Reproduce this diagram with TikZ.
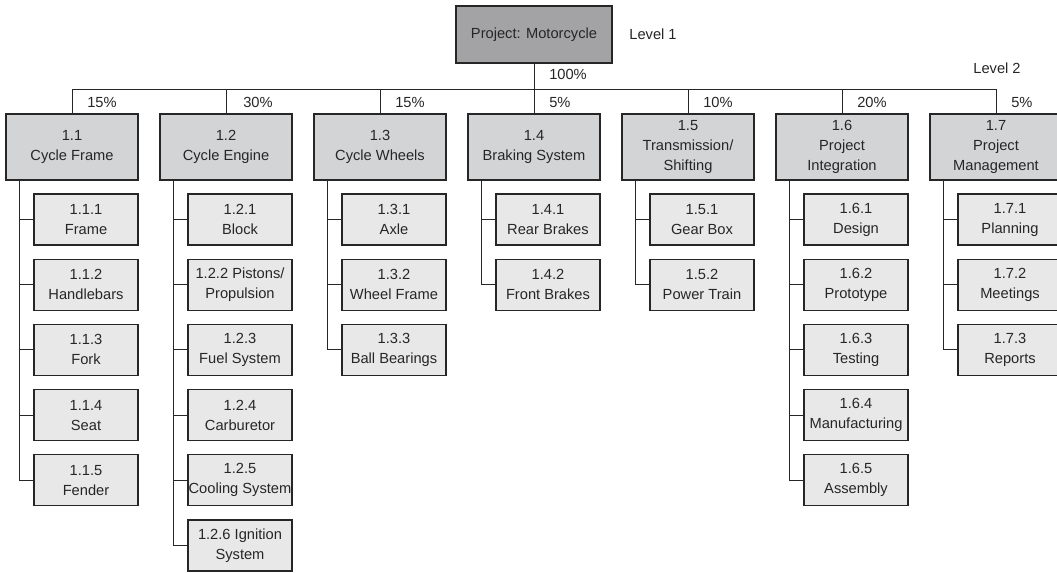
\documentclass[tikz,border=0pt]{standalone}
\usepackage{fontspec}
\setmainfont{Liberation Sans}
\usepackage{tikz}
\usetikzlibrary{positioning}
\definecolor{rootgray}{RGB}{163,163,165}
\definecolor{wpgray}{RGB}{211,212,214}
\definecolor{taskgray}{RGB}{232,232,232}
\definecolor{inkgray}{RGB}{38,38,38}

\begin{document}
\begin{tikzpicture}[
  x=0.75pt, y=-0.75pt,
  box/.style={rectangle, draw=inkgray, line width=0.8pt, inner sep=0pt, align=center,
    text=inkgray, font=\fontsize{11}{15}\selectfont},
  rootbox/.style={box, fill=rootgray, minimum width=117pt, minimum height=42.75pt},
  wpbox/.style={box, fill=wpgray, minimum width=99pt, minimum height=49.5pt},
  taskbox/.style={box, fill=taskgray, minimum width=78pt, minimum height=38.25pt},
  pct/.style={anchor=west, inner sep=0pt, text=inkgray, font=\fontsize{11}{15}\selectfont},
  link/.style={draw=inkgray, line width=0.75pt}
]
  \useasboundingbox (0,0) rectangle (1057,572);
  \clip (0,0) rectangle (1057,572);
  % ---------------- level 1 ----------------
  \node[rootbox] (root) at (534,34.5) {Project: Motorcycle};
  \node[pct, anchor=center] (lev1) at (653,34) {Level 1};
  \node[pct, anchor=center] (lev2) at (997,68) {Level 2};
  % ---------------- level 2 ----------------
  \node[wpbox] (l1) at (72,147) {1.1\\Cycle Frame};
  \node[wpbox] (l2) at (226,147) {1.2\\Cycle Engine};
  \node[wpbox] (l3) at (380,147) {1.3\\Cycle Wheels};
  \node[wpbox] (l4) at (534,147) {1.4\\Braking System};
  \node[wpbox] (l5) at (688,147) {1.5\\Transmission/\\Shifting};
  \node[wpbox] (l6) at (842,147) {1.6\\Project\\Integration};
  \node[wpbox] (l7) at (996,147) {1.7\\Project\\Management};
  % weights
  \coordinate (bar) at (534,89);
  \node[pct] (w0) at (549,74) {100\%};
  \node[pct] (w1) at (87,102) {15\%};
  \node[pct] (w2) at (243,102) {30\%};
  \node[pct] (w3) at (395,102) {15\%};
  \node[pct] (w4) at (549,102) {5\%};
  \node[pct] (w5) at (703,102) {10\%};
  \node[pct] (w6) at (857,102) {20\%};
  \node[pct] (w7) at (1011,102) {5\%};
  % ---------------- level 3 ----------------
  \node[taskbox] (s11) at (86,219.5) {1.1.1\\Frame};
  \node[taskbox] (s12) at (86,284.7) {1.1.2\\Handlebars};
  \node[taskbox] (s13) at (86,349.9) {1.1.3\\Fork};
  \node[taskbox] (s14) at (86,415.1) {1.1.4\\Seat};
  \node[taskbox] (s15) at (86,480.3) {1.1.5\\Fender};
  \node[taskbox] (s21) at (240,219.5) {1.2.1\\Block};
  \node[taskbox] (s22) at (240,284.7) {1.2.2 Pistons/\\Propulsion};
  \node[taskbox] (s23) at (240,349.9) {1.2.3\\Fuel System};
  \node[taskbox] (s24) at (240,415.1) {1.2.4\\Carburetor};
  \node[taskbox] (s25) at (240,480.3) {1.2.5\\Cooling System};
  \node[taskbox] (s26) at (240,545.5) {1.2.6 Ignition\\System};
  \node[taskbox] (s31) at (394,219.5) {1.3.1\\Axle};
  \node[taskbox] (s32) at (394,284.7) {1.3.2\\Wheel Frame};
  \node[taskbox] (s33) at (394,349.9) {1.3.3\\Ball Bearings};
  \node[taskbox] (s41) at (548,219.5) {1.4.1\\Rear Brakes};
  \node[taskbox] (s42) at (548,284.7) {1.4.2\\Front Brakes};
  \node[taskbox] (s51) at (702,219.5) {1.5.1\\Gear Box};
  \node[taskbox] (s52) at (702,284.7) {1.5.2\\Power Train};
  \node[taskbox] (s61) at (856,219.5) {1.6.1\\Design};
  \node[taskbox] (s62) at (856,284.7) {1.6.2\\Prototype};
  \node[taskbox] (s63) at (856,349.9) {1.6.3\\Testing};
  \node[taskbox] (s64) at (856,415.1) {1.6.4\\Manufacturing};
  \node[taskbox] (s65) at (856,480.3) {1.6.5\\Assembly};
  \node[taskbox] (s71) at (1010,219.5) {1.7.1\\Planning};
  \node[taskbox] (s72) at (1010,284.7) {1.7.2\\Meetings};
  \node[taskbox] (s73) at (1010,349.9) {1.7.3\\Reports};
  % ---------------- connectors: level 1 to level 2 ----------------
  \draw[link] (root.south) -- (l4.north);
  \draw[link] (l1.north) -- (l1.north |- bar) -- (l7.north |- bar) -- (l7.north);
  \draw[link] (l2.north) -- (l2.north |- bar);
  \draw[link] (l3.north) -- (l3.north |- bar);
  \draw[link] (l5.north) -- (l5.north |- bar);
  \draw[link] (l6.north) -- (l6.north |- bar);
  % ---------------- connectors: level 2 to level 3 ----------------
  \draw[link] ([xshift=10.5pt]l1.south west) |- (s11.west);
  \draw[link] ([xshift=10.5pt]l1.south west) |- (s12.west);
  \draw[link] ([xshift=10.5pt]l1.south west) |- (s13.west);
  \draw[link] ([xshift=10.5pt]l1.south west) |- (s14.west);
  \draw[link] ([xshift=10.5pt]l1.south west) |- (s15.west);
  \draw[link] ([xshift=10.5pt]l2.south west) |- (s21.west);
  \draw[link] ([xshift=10.5pt]l2.south west) |- (s22.west);
  \draw[link] ([xshift=10.5pt]l2.south west) |- (s23.west);
  \draw[link] ([xshift=10.5pt]l2.south west) |- (s24.west);
  \draw[link] ([xshift=10.5pt]l2.south west) |- (s25.west);
  \draw[link] ([xshift=10.5pt]l2.south west) |- (s26.west);
  \draw[link] ([xshift=10.5pt]l3.south west) |- (s31.west);
  \draw[link] ([xshift=10.5pt]l3.south west) |- (s32.west);
  \draw[link] ([xshift=10.5pt]l3.south west) |- (s33.west);
  \draw[link] ([xshift=10.5pt]l4.south west) |- (s41.west);
  \draw[link] ([xshift=10.5pt]l4.south west) |- (s42.west);
  \draw[link] ([xshift=10.5pt]l5.south west) |- (s51.west);
  \draw[link] ([xshift=10.5pt]l5.south west) |- (s52.west);
  \draw[link] ([xshift=10.5pt]l6.south west) |- (s61.west);
  \draw[link] ([xshift=10.5pt]l6.south west) |- (s62.west);
  \draw[link] ([xshift=10.5pt]l6.south west) |- (s63.west);
  \draw[link] ([xshift=10.5pt]l6.south west) |- (s64.west);
  \draw[link] ([xshift=10.5pt]l6.south west) |- (s65.west);
  \draw[link] ([xshift=10.5pt]l7.south west) |- (s71.west);
  \draw[link] ([xshift=10.5pt]l7.south west) |- (s72.west);
  \draw[link] ([xshift=10.5pt]l7.south west) |- (s73.west);
\end{tikzpicture}
\end{document}
